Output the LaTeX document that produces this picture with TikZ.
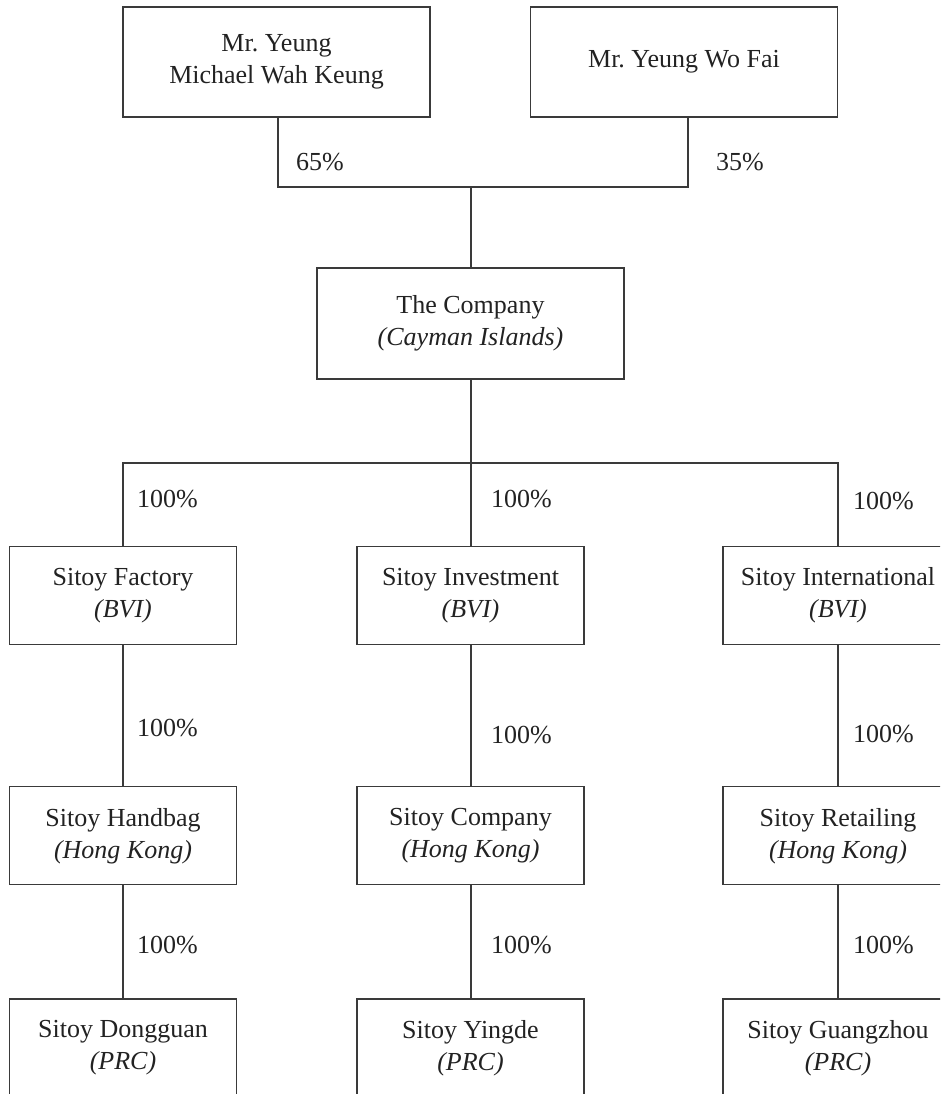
\documentclass[tikz,border=0pt]{standalone}
\usepackage{fontspec}
\setmainfont{Liberation Serif}
\definecolor{linec}{HTML}{3A3A3A}
\definecolor{textc}{HTML}{222222}
\begin{document}
\begin{tikzpicture}[x=1pt,y=-1pt,
  box/.style={draw=linec, line width=1.2pt, minimum width=307pt, minimum height=110pt,
    inner sep=0pt, align=center, text=textc, font=\fontsize{26}{32}\selectfont},
  sbox/.style={box, minimum width=227pt, minimum height=98pt},
  pct/.style={anchor=base west, inner sep=0pt, text=textc, font=\fontsize{26}{32}\selectfont},
  link/.style={draw=linec, line width=1.2pt}]
\useasboundingbox (0,0) rectangle (940,1094);
\clip (0,0) rectangle (940,1094);
% owners
\node[box] (m1) at (276.5,62) {Mr.\ Yeung\\Michael Wah Keung};
\node[box] (m2) at (684,62) {Mr.\ Yeung Wo Fai};
% company
\node[box, minimum height=111pt] (co) at (470.5,323.5) {The Company\\\textit{(Cayman Islands)}};
% row 2
\node[sbox] (f) at (123,595.3) {Sitoy Factory\\\textit{(BVI)}};
\node[sbox] (inv) at (470.5,595.3) {Sitoy Investment\\\textit{(BVI)}};
\node[sbox, minimum width=230pt] (intl) at (838,595.3) {Sitoy International\\\textit{(BVI)}};
% row 3
\node[sbox] (h) at (123,835.8) {Sitoy Handbag\\\textit{(Hong Kong)}};
\node[sbox] (c) at (470.5,835.8) {Sitoy Company\\\textit{(Hong Kong)}};
\node[sbox, minimum width=230pt] (r) at (838,835.8) {Sitoy Retailing\\\textit{(Hong Kong)}};
% row 4
\node[sbox] (d) at (123,1048) {Sitoy Dongguan\\\textit{(PRC)}};
\node[sbox] (y) at (470.5,1048) {Sitoy Yingde\\\textit{(PRC)}};
\node[sbox, minimum width=230pt] (g) at (838,1048) {Sitoy Guangzhou\\\textit{(PRC)}};
% percentages
\node[pct] (p65) at (296,171) {65\%};
\node[pct] (p35) at (716,171) {35\%};
\node[pct] (pf) at (137,507) {100\%};
\node[pct] (pi) at (491,507) {100\%};
\node[pct] (pn) at (853,509) {100\%};
\node[pct] (ph) at (137,736) {100\%};
\node[pct] (pc) at (491,743) {100\%};
\node[pct] (pr) at (853,742) {100\%};
\node[pct] (pd) at (137,953) {100\%};
\node[pct] (py) at (491,953) {100\%};
\node[pct] (pg) at (853,953) {100\%};
% connectors
\coordinate (a1) at (278,187);
\coordinate (a2) at (688,187);
\coordinate (jt) at (471,187);
\coordinate (jb) at (471,463);
\draw[link] (a1 |- m1.south) -- (a1) -- (a2) -- (a2 |- m2.south);
\draw[link] (jt) -- (jt |- co.north);
\draw[link] (jb |- co.south) -- (jb);
\draw[link] (f.north) |- (jb) -| (intl.north);
\draw[link] (jb) -- (jb |- inv.north);
\draw[link] (f.south) -- (h.north);
\draw[link] (inv.south -| jb) -- (c.north -| jb);
\draw[link] (intl.south) -- (r.north);
\draw[link] (h.south) -- (d.north);
\draw[link] (c.south -| jb) -- (y.north -| jb);
\draw[link] (r.south) -- (g.north);
\end{tikzpicture}
\end{document}
